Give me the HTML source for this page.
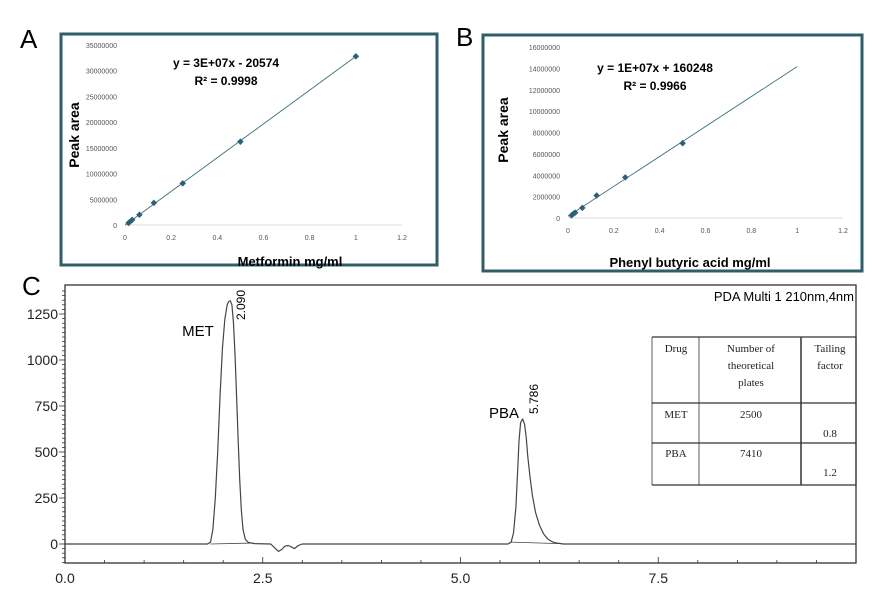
<!DOCTYPE html>
<html><head><meta charset="utf-8"><style>
body{margin:0;background:#fff;width:873px;height:589px;overflow:hidden}
svg{display:block}
</style></head><body>
<svg id="s" width="873" height="589" xmlns="http://www.w3.org/2000/svg" font-family="Liberation Sans, sans-serif">
<text x="20" y="48" font-size="26">A</text>
<text x="456" y="46" font-size="26">B</text>
<text x="22" y="295" font-size="26">C</text>
<rect x="61" y="34" width="376" height="231" fill="none" stroke="#2f5d68" stroke-width="3"/>
<rect x="483" y="35" width="379" height="236" fill="none" stroke="#2f5d68" stroke-width="3"/>
<g id="ga"></g><g id="gb"></g><g id="gc"></g>
</svg>
<script>
// Panel A data
const aX=[0.0156,0.0234,0.03125,0.0625,0.125,0.25,0.5,1];
const aY=[400000,700000,1000000,2000000,4300000,8100000,16200000,32800000];
const aYTicks=[0,5000000,10000000,15000000,20000000,25000000,30000000,35000000];
const abXTicks=[0,0.2,0.4,0.6,0.8,1,1.2];
// Panel B data
const bX=[0.0156,0.0234,0.03125,0.0625,0.125,0.25,0.5];
const bY=[250000,400000,500000,950000,2100000,3800000,7000000];
const bYTicks=[0,2000000,4000000,6000000,8000000,10000000,12000000,14000000,16000000];
// Panel C data
const cT=[0,1.8,1.84,1.87,1.9,1.93,1.96,1.99,2.02,2.05,2.07,2.09,2.11,2.13,2.15,2.17,2.19,2.21,2.23,2.25,2.28,2.32,2.4,2.6,2.66,2.7,2.74,2.78,2.82,2.86,2.9,2.95,3.0,5.6,5.64,5.67,5.7,5.72,5.74,5.76,5.786,5.81,5.83,5.85,5.88,5.91,5.95,6.0,6.05,6.1,6.15,6.2,6.3,10];
const cS=[0,0,10,80,250,500,800,1060,1220,1300,1318,1322,1300,1200,1020,800,560,340,180,80,25,8,2,0,-25,-40,-30,-12,-8,-15,-25,-8,0,0,10,60,200,380,560,660,680,650,580,480,360,260,170,100,55,28,14,6,0,0];
const cYTicks=[0,250,500,750,1000,1250];
const cXTicks=["0.0","2.5","5.0","7.5"];

const NS="http://www.w3.org/2000/svg";
function mk(p,t,a,txt){const e=document.createElementNS(NS,t);for(const k in a)e.setAttribute(k,a[k]);if(txt!==undefined)e.textContent=txt;p.appendChild(e);return e;}

function scatter(g,o){
  const sx=v=>o.x0+v/1.2*(o.x1-o.x0), sy=v=>o.y0-v/o.ymax*(o.y0-o.y1);
  let e=mk(g,'line',{x1:o.x0,y1:o.y0,x2:o.x1,y2:o.y0,stroke:'#ddd'});
  
  
  o.yt.forEach(v=>{e=mk(g,'text',{x:o.x0-8,y:sy(v)+3,'font-size':7,fill:'#555','text-anchor':'end'},v);
    
    });
  abXTicks.forEach(v=>{e=mk(g,'text',{x:sx(v),y:o.y0+15,'font-size':7,fill:'#555','text-anchor':'middle'},v);
    
    });
  const fx=o.fit; e=mk(g,'line',{x1:sx(0),y1:sy(fx(0)),x2:sx(1),y2:sy(fx(1)),stroke:'#3d6f7a','stroke-width':0.9});
  
  
  o.xs.forEach((v,i)=>{e=mk(g,'rect',{x:sx(v)-2.3,y:sy(o.ys[i])-2.3,width:4.6,height:4.6,fill:'#2d5f78',transform:`rotate(45 ${sx(v)} ${sy(o.ys[i])})`});
    
    });
  e=mk(g,'text',{x:o.ex,y:o.ey,'font-size':12,'font-weight':'bold','text-anchor':'middle'},o.eq);
  
  
  e=mk(g,'text',{x:o.ex,y:o.ey+18,'font-size':12,'font-weight':'bold','text-anchor':'middle'},o.r2);
  
  
  e=mk(g,'text',{x:o.ylx,y:o.yly,'font-size':14,'font-weight':'bold','text-anchor':'middle',transform:`rotate(-90 ${o.ylx} ${o.yly})`},'Peak area');
  
  
  e=mk(g,'text',{x:o.xlx,y:o.xly,'font-size':13,'font-weight':'bold','text-anchor':'middle'},o.xl);
  
  
}
scatter(document.getElementById('ga'),{x0:125,x1:402,y0:225,y1:45,ymax:35000000,yt:aYTicks,xs:aX,ys:aY,
  fit:x=>32800000*x-20574,ex:226,ey:67,eq:'y = 3E+07x - 20574',r2:'R² = 0.9998',ylx:79,yly:135,xlx:290,xly:266,xl:'Metformin mg/ml'});
scatter(document.getElementById('gb'),{x0:568,x1:843,y0:218,y1:47,ymax:16000000,yt:bYTicks,xs:bX,ys:bY,
  fit:x=>14000000*x+160248,ex:655,ey:72,eq:'y = 1E+07x + 160248',r2:'R² = 0.9966',ylx:508,yly:130,xlx:690,xly:267,xl:'Phenyl butyric acid mg/ml'});

// Panel C
(function(){
  const g=document.getElementById('gc');
  const X0=65,X1=856,T=285,B=563;
  const sx=t=>X0+t*79.1, sy=v=>544-v*0.184;
  let e=mk(g,'rect',{x:X0,y:T,width:X1-X0,height:B-T,fill:'none',stroke:'#333','stroke-width':1.3});
  
  
  for(let v=-100;v<=1375;v+=25){mk(g,'line',{x1:X0,y1:sy(v),x2:X0-(v%250==0?6:3),y2:sy(v),stroke:'#333','stroke-width':0.8});}
  cYTicks.forEach(v=>{e=mk(g,'text',{x:X0-7,y:sy(v)+5,'font-size':14,fill:'#222','text-anchor':'end'},v);
    
    });
  for(let t=0;t<=10;t+=0.5){mk(g,'line',{x1:sx(t),y1:B,x2:sx(t),y2:B-(t%2.5==0?6:3),stroke:'#333','stroke-width':0.8});}
  cXTicks.forEach(v=>{e=mk(g,'text',{x:sx(+v),y:583,'font-size':14,fill:'#222','text-anchor':'middle'},v);
    
    });
  let d=cT.map((t,i)=>(i?'L':'M')+sx(t).toFixed(1)+' '+sy(cS[i]).toFixed(1)).join(' ');
  e=mk(g,'path',{d:d,fill:'none',stroke:'#444','stroke-width':1.2,'stroke-linejoin':'round'});
  
  
  e=mk(g,'line',{x1:sx(1.84),y1:sy(0),x2:sx(2.35),y2:sy(5),stroke:'#444','stroke-width':0.8});
  
  
  e=mk(g,'line',{x1:sx(5.64),y1:sy(10),x2:sx(6.25),y2:sy(2),stroke:'#444','stroke-width':0.8});
  
  
  e=mk(g,'text',{x:198,y:336,'font-size':15,'text-anchor':'middle'},'MET');
  
  
  e=mk(g,'text',{x:245,y:320,'font-size':12,transform:'rotate(-90 245 320)'},'2.090');
  
  
  e=mk(g,'text',{x:504,y:418,'font-size':15,'text-anchor':'middle'},'PBA');
  
  
  e=mk(g,'text',{x:538,y:414,'font-size':12,transform:'rotate(-90 538 414)'},'5.786');
  
  
  e=mk(g,'text',{x:854,y:301,'font-size':13,'text-anchor':'end'},'PDA Multi 1 210nm,4nm');
  
  
  // table
  const tg=mk(g,'g',{'font-family':'Liberation Serif, serif','font-size':11,fill:'#222'});
  
  
  [337,403,443,485].forEach(y=>mk(tg,'line',{x1:652,y1:y,x2:856,y2:y,stroke:'#333','stroke-width':1.2}));
  [[652,.8],[699,.8],[801,1.5],[856,1.2]].forEach(c=>mk(tg,'line',{x1:c[0],y1:337,x2:c[0],y2:485,stroke:'#333','stroke-width':c[1]}));
  const cells=[[676,352,'Drug'],[751,352,'Number of'],[751,369,'theoretical'],[751,386,'plates'],[830,352,'Tailing'],[830,369,'factor'],
    [676,418,'MET'],[751,418,'2500'],[830,437,'0.8'],[676,457,'PBA'],[751,457,'7410'],[830,476,'1.2']];
  cells.forEach(c=>{e=mk(tg,'text',{x:c[0],y:c[1],'text-anchor':'middle'},c[2]);
    
    });
})();
</script>
</body></html>
